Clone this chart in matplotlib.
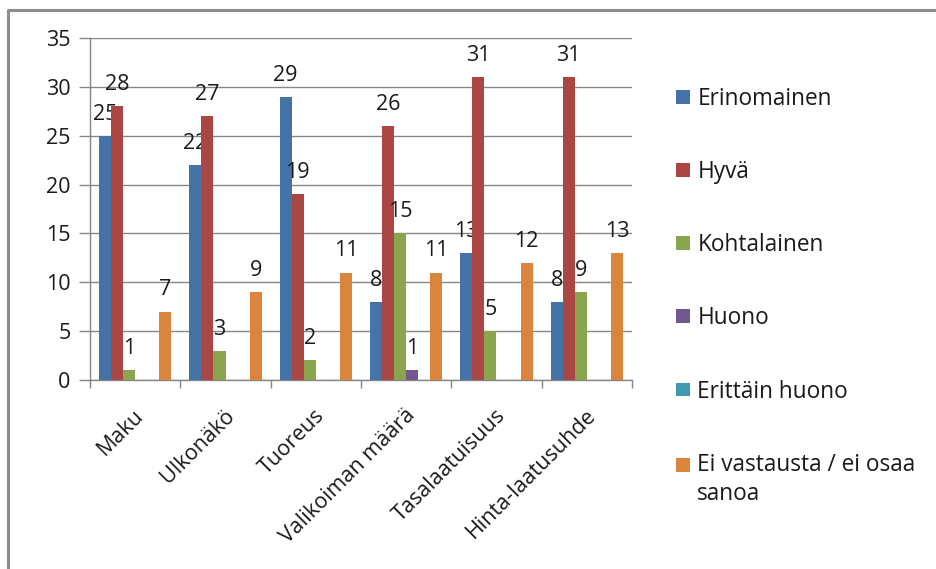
import matplotlib
matplotlib.use("Agg")
import matplotlib.pyplot as plt
from matplotlib.lines import Line2D
from matplotlib.patches import Patch, Rectangle
from matplotlib.legend_handler import HandlerPatch
from matplotlib.transforms import ScaledTranslation
import numpy as np

plt.rcParams['font.family'] = ['Open Sans', 'DejaVu Sans']

categories = ["Maku", "Ulkonäkö", "Tuoreus", "Valikoiman määrä",
              "Tasalaatuisuus", "Hinta-laatusuhde"]
series_names = ["Erinomainen", "Hyvä", "Kohtalainen", "Huono",
                "Erittäin huono", "Ei vastausta / ei osaa\nsanoa"]
erinomainen = [25, 22, 29, 8, 13, 8]
hyva = [28, 27, 19, 26, 31, 31]
kohtalainen = [1, 3, 2, 15, 5, 9]
huono = [0, 0, 0, 1, 0, 0]
erittain_huono = [0, 0, 0, 0, 0, 0]
ei_vastausta = [7, 9, 11, 11, 12, 13]
y_ticks = [0, 5, 10, 15, 20, 25, 30, 35]

series = [erinomainen, hyva, kohtalainen, huono, erittain_huono, ei_vastausta]
colors = ["#4572A7", "#AA4643", "#89A54E", "#71588F", "#4198AF", "#DB843D"]
text_color = "#1a1a1a"
line_color = "#868686"

W, H = 936, 569
fig = plt.figure(figsize=(W / 100, H / 100), dpi=100)
ax = fig.add_axes([90 / W, (H - 380) / H, 542 / W, (380 - 38) / H])

n = len(series)
gap = 1.5
bw = 1.0 / (n + gap)
x = np.arange(len(categories))
fs = 15.5
legend_fs = 16.3

for i, (vals, c, name) in enumerate(zip(series, colors, series_names)):
    pos = x - 0.5 + bw * (gap / 2 + i + 0.5)
    bars = ax.bar(pos, vals, width=bw, color=c, label=name, zorder=3)
    labels = [str(v) if v else "" for v in vals]
    ax.bar_label(bars, labels=labels, padding=8, fontsize=fs, color=text_color)

ax.set_xlim(-0.5, len(categories) - 0.5)
ax.set_ylim(0, 35)
ax.set_yticks(y_ticks)
ax.tick_params(axis='y', length=8, width=1, color=line_color, labelsize=fs,
               pad=6, labelcolor=text_color)
ax.yaxis.grid(True, color=line_color, linewidth=1, zorder=0)

# category boundaries as major ticks, names as minor ticks at the centres
ax.set_xticks(np.arange(len(categories) + 1) - 0.5)
ax.set_xticklabels([])
ax.tick_params(axis='x', which='major', length=6, width=1, color=line_color)
ax.set_xticks(x, minor=True)
ax.set_xticklabels(categories, minor=True, rotation=45, ha='right', va='top',
                   fontsize=fs, color=text_color)
ax.tick_params(axis='x', which='minor', length=0, pad=18)
shift = ScaledTranslation(13 / 100, 0, fig.dpi_scale_trans)
for lbl in ax.get_xticklabels(minor=True):
    lbl.set_transform(lbl.get_transform() + shift)

for s in ["top", "right"]:
    ax.spines[s].set_visible(False)
for s in ["left", "bottom"]:
    ax.spines[s].set_color(line_color)
    ax.spines[s].set_linewidth(1)


def first_line_patch(legend, orig_handle, xdescent, ydescent,
                     width, height, fontsize):
    # key square beside the first line of a two-line label
    return Rectangle((-xdescent, -ydescent + 0.66 * fontsize), width, height)


handles = [Patch(facecolor=c, edgecolor='none') for c in colors]
handler_map = {handles[-1]: HandlerPatch(patch_func=first_line_patch)}
leg = fig.legend(handles, series_names, loc='upper left',
                 handler_map=handler_map,
                 bbox_to_anchor=(676 / W, 1 - 87 / H), frameon=False,
                 fontsize=legend_fs, handlelength=0.64, handleheight=0.56,
                 handletextpad=0.3, labelspacing=2.17, borderpad=0,
                 borderaxespad=0, labelcolor=text_color)
for t in leg.get_texts():
    t.set_linespacing(1.3)

# outer chart frame
fig.add_artist(Line2D([8 / W, 8 / W, 1.0], [0.0, 1 - 10 / H, 1 - 10 / H],
                      transform=fig.transFigure, color="#8c8c8c",
                      linewidth=2.2))

fig.savefig("out.png", dpi=100)
